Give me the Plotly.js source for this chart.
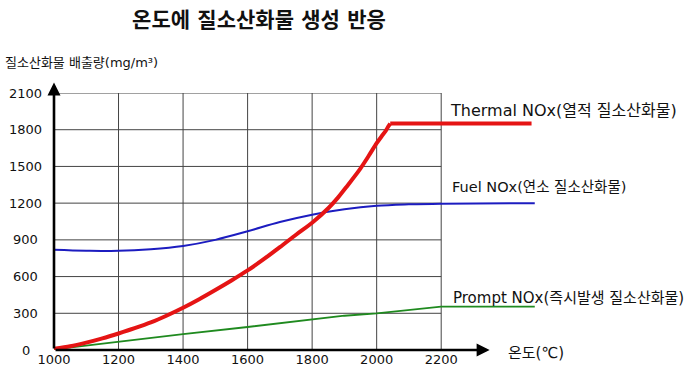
<!DOCTYPE html>
<html>
<head>
<meta charset="utf-8">
<script src="https://cdn.plot.ly/plotly-3.0.1.min.js"></script>
<style>html,body{margin:0;padding:0;background:#fff;}#chart{width:699px;height:373px;}</style>
</head>
<body>
<div id="chart"></div>
<script>
// Data
const thermalTemp = [1000, 1050, 1100, 1150, 1200, 1250, 1300, 1350, 1400, 1450, 1500, 1550, 1600, 1650, 1700, 1750, 1800, 1850, 1880, 1910, 1945, 1975, 2000, 2015, 2028, 2035, 2042];
const thermalNOx  = [10, 30, 60, 95, 135, 178, 225, 282, 345, 415, 490, 568, 650, 742, 840, 942, 1040, 1158, 1245, 1345, 1465, 1585, 1690, 1745, 1790, 1822, 1850];
const thermalPlateauTemp = [2042, 2480];
const thermalPlateauNOx  = [1850, 1850];

const fuelTemp = [1000, 1100, 1200, 1300, 1400, 1500, 1600, 1700, 1800, 1900, 2000, 2100, 2200, 2490];
const fuelNOx  = [820, 812, 810, 823, 850, 900, 970, 1046, 1106, 1150, 1178, 1190, 1196, 1200];

const promptTemp = [1000, 1200, 1400, 1600, 1800, 1900, 2000, 2200, 2490];
const promptNOx  = [5, 70, 130, 188, 248, 280, 300, 355, 355];

const xTicks = [1000, 1200, 1400, 1600, 1800, 2000, 2200];
const yTicks = [0, 300, 600, 900, 1200, 1500, 1800, 2100];

const chartTitle = '온도에 질소산화물 생성 반응';
const yTitle = '질소산화물 배출량(mg/m³)';
const xTitle = '온도(℃)';
const seriesLabels = ['Thermal NOx(열적 질소산화물)', 'Fuel NOx(연소 질소산화물)', 'Prompt NOx(즉시발생 질소산화물)'];

const FONT = 'DejaVu Sans, Noto Sans CJK KR, sans-serif';
const RED = '#e51414';

const traces = [
  {x: promptTemp, y: promptNOx, mode: 'lines', line: {color: '#1f8a1f', width: 1.8}, hoverinfo: 'skip'},
  {x: fuelTemp, y: fuelNOx, mode: 'lines', line: {color: '#1c1cc0', width: 2, shape: 'spline', smoothing: 1}, hoverinfo: 'skip'},
  {x: thermalTemp, y: thermalNOx, mode: 'lines', line: {color: RED, width: 4, shape: 'spline', smoothing: 0.8}, hoverinfo: 'skip'},
  {x: thermalPlateauTemp, y: thermalPlateauNOx, mode: 'lines', line: {color: RED, width: 4}, hoverinfo: 'skip'}
];

const shapes = [];
yTicks.filter(v => v > 0).forEach(v => shapes.push({type: 'line', xref: 'x', yref: 'y', x0: xTicks[0], x1: xTicks[xTicks.length-1], y0: v, y1: v, line: {color: '#444', width: 1}, layer: 'below'}));
xTicks.filter(v => v > xTicks[0]).forEach(v => shapes.push({type: 'line', xref: 'x', yref: 'y', x0: v, x1: v, y0: 0, y1: yTicks[yTicks.length-1], line: {color: '#444', width: 1}, layer: 'below'}));

const annotations = [
  // axis arrows
  {x: 1000, y: 2185, ax: 1000, ay: 0, xref: 'x', yref: 'y', axref: 'x', ayref: 'y', text: '', showarrow: true, arrowhead: 2, arrowsize: 1, arrowwidth: 2.6, arrowcolor: '#000', standoff: 0, startstandoff: 0},
  {x: 2350, y: 0, ax: 1000, ay: 0, xref: 'x', yref: 'y', axref: 'x', ayref: 'y', text: '', showarrow: true, arrowhead: 2, arrowsize: 1, arrowwidth: 2.6, arrowcolor: '#000', standoff: 0, startstandoff: 0},
  // titles
  {x: -0.105, y: 1.12, xref: 'paper', yref: 'paper', xanchor: 'left', yanchor: 'middle', text: yTitle, showarrow: false, font: {family: FONT, size: 13, color: '#111'}},
  {x: 0.934, y: -0.012, xref: 'paper', yref: 'paper', xanchor: 'left', yanchor: 'middle', text: xTitle, showarrow: false, font: {family: FONT, size: 15, color: '#111'}},
  // series labels
  {x: 2221, y: 1953, xref: 'x', yref: 'y', xanchor: 'left', yanchor: 'middle', text: seriesLabels[0], showarrow: false, font: {family: FONT, size: 16, color: '#111'}},
  {x: 2227, y: 1332, xref: 'x', yref: 'y', xanchor: 'left', yanchor: 'middle', text: seriesLabels[1], showarrow: false, font: {family: FONT, size: 14.5, color: '#111'}},
  {x: 2230, y: 425, xref: 'x', yref: 'y', xanchor: 'left', yanchor: 'middle', text: seriesLabels[2], showarrow: false, font: {family: FONT, size: 15, color: '#111'}}
];
// y tick labels, centred in the left margin as in the reference
yTicks.forEach(v => annotations.push({x: -0.058, y: v, xref: 'paper', yref: 'y', xanchor: 'center', yanchor: 'middle', text: String(v), showarrow: false, font: {family: FONT, size: 13, color: '#111'}}));

const layout = {
  width: 699, height: 373,
  margin: {l: 54, r: 161, t: 93, b: 23, pad: 0},
  paper_bgcolor: '#fff', plot_bgcolor: '#fff',
  showlegend: false,
  title: {text: '<b>' + chartTitle + '</b>', x: 0.3705, xref: 'container', xanchor: 'center', y: 0.946, yref: 'container', yanchor: 'middle', font: {family: FONT, size: 21, color: '#111'}},
  xaxis: {range: [1000, 2500], tickvals: xTicks, ticktext: xTicks.map(String), showgrid: false, zeroline: false, showline: false, ticks: '', tickfont: {family: FONT, size: 13, color: '#111'}, fixedrange: true},
  yaxis: {range: [0, 2100], tickvals: yTicks, showticklabels: false, showgrid: false, zeroline: false, showline: false, ticks: '', fixedrange: true},
  shapes: shapes,
  annotations: annotations
};

Plotly.newPlot('chart', traces, layout, {displayModeBar: false, staticPlot: true});
</script>
</body>
</html>
